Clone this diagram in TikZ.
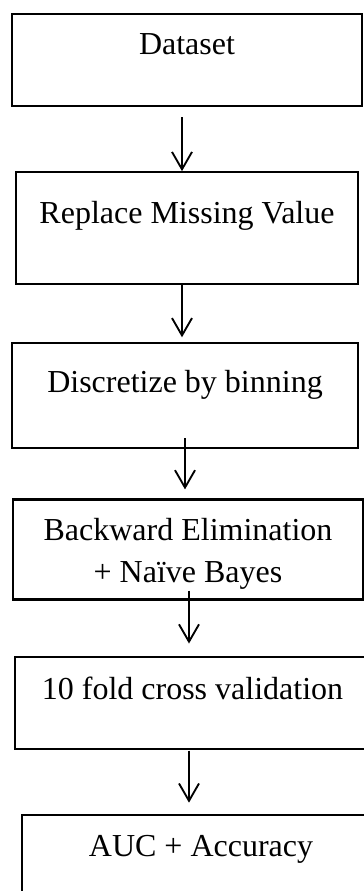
\documentclass[tikz,border=0pt]{standalone}
\usepackage{fontspec}
\setmainfont{Liberation Serif}
\usepackage{tikz}
\usetikzlibrary{positioning, arrows.meta}
\tikzstyle{stepbox} = [rectangle, draw=black, line width=0.8pt, inner sep=0pt, align=center, font=\fontsize{12pt}{15.75pt}\selectfont]
\tikzstyle{arrow} = [-{Straight Barb[length=6.5pt, width=7.5pt]}, line width=0.7pt]

\begin{document}
\begin{tikzpicture}
  \path[use as bounding box, fill=white] (0,0) rectangle (136.5pt,-334.125pt);
  \clip (0,0) rectangle (136.5pt,-334.125pt);
  %boxes
  \node (data) [stepbox, anchor=north, minimum width=131.25pt, text height=15pt, text depth=19.5pt] at (70.125pt,-4.875pt) {Dataset};
  \node (miss) [stepbox, below=24pt of data, minimum width=128.25pt, text height=19.125pt, text depth=22.875pt] {Replace Missing Value};
  \node (disc) [stepbox, below=21.375pt of miss, xshift=-0.75pt, minimum width=129.75pt, text height=18.375pt, text depth=21pt] {Discretize by binning};
  \node (back) [stepbox, below=18.375pt of disc, xshift=1.125pt, minimum width=131.25pt, text height=31.125pt, text depth=6.375pt] {Backward Elimination\\+ Naïve Bayes};
  \node (cv) [stepbox, below=20.625pt of back, xshift=1.6875pt, minimum width=133.125pt, text height=16.125pt, text depth=18.375pt] {10 fold cross validation};
  \node (auc) [stepbox, below=24pt of cv, xshift=3.1875pt, minimum width=134.25pt, text height=15.75pt, text depth=22.5pt] {AUC + Accuracy};

  %arrows
  \draw [arrow]([xshift=-1.875pt, yshift=-3.75pt]data.south) -- ([xshift=-1.875pt]miss.north);
  \draw [arrow]([xshift=-1.875pt]miss.south) -- ([xshift=-1.125pt, yshift=1.875pt]disc.north);
  \draw [arrow]([yshift=4.125pt]disc.south) -- ([xshift=-1.125pt, yshift=3.375pt]back.north);
  \draw [arrow]([xshift=0.375pt, yshift=3.75pt]back.south) -- ([xshift=-1.3125pt, yshift=4.5pt]cv.north);
  \draw [arrow]([xshift=-1.3125pt, yshift=-0.375pt]cv.south) -- ([xshift=-4.5pt, yshift=4.125pt]auc.north);
\end{tikzpicture}
\end{document}
